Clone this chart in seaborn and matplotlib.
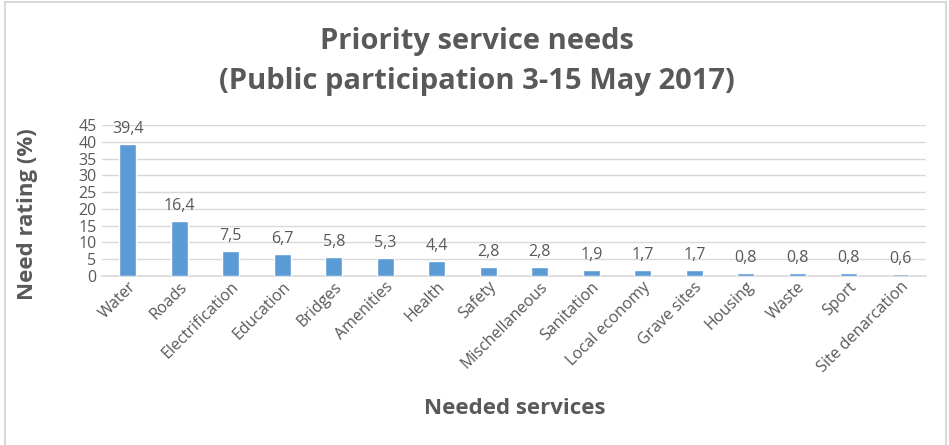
import matplotlib
matplotlib.use("Agg")
import matplotlib.pyplot as plt
from matplotlib.patches import Rectangle
import seaborn as sns
import pandas as pd

services = ["Water", "Roads", "Electrification", "Education", "Bridges", "Amenities",
            "Health", "Safety", "Mischellaneous", "Sanitation", "Local economy",
            "Grave sites", "Housing", "Waste", "Sport", "Site denarcation"]
ratings = [39.4, 16.4, 7.5, 6.7, 5.8, 5.3, 4.4, 2.8, 2.8, 1.9, 1.7, 1.7, 0.8, 0.8, 0.8, 0.6]
y_ticks = [0, 5, 10, 15, 20, 25, 30, 35, 40, 45]

df = pd.DataFrame({"service": services, "rating": ratings})

sns.set_theme(style="white")
plt.rcParams["font.family"] = ["Open Sans", "DejaVu Sans"]

W, H = 949, 445
fig = plt.figure(figsize=(W / 100, H / 100), dpi=100)
ax = fig.add_axes([102 / W, 1 - 276 / H, (926 - 102) / W, (276 - 125) / H])

text_gray = "#595959"
bar_blue = "#5b9bd5"

sns.barplot(data=df, x="service", y="rating", color=bar_blue, width=0.33,
            saturation=1, ax=ax, zorder=3)

ax.set_ylim(0, 45)
ax.set_xlim(-0.5, len(services) - 0.5)
ax.set_yticks(y_ticks)
ax.grid(axis="y", color="#d9d9d9", lw=1, zorder=0)
for s in ["top", "right", "left"]:
    ax.spines[s].set_visible(False)
ax.spines["bottom"].set_color("#d9d9d9")
ax.spines["bottom"].set_linewidth(1.2)
ax.tick_params(axis="both", length=0, labelsize=11.5, labelcolor=text_gray, pad=4)
ax.tick_params(axis="x", pad=2)
plt.setp(ax.get_xticklabels(), rotation=45, ha="right", rotation_mode="anchor")

for i, v in enumerate(ratings):
    ax.annotate(f"{v:.1f}".replace(".", ","), (i, v), xytext=(0, 5),
                textcoords="offset points", ha="center", va="bottom",
                fontsize=11.5, color=text_gray)

ax.set_xlabel("")
ax.set_ylabel("")
fig.text(28 / W, 1 - 214 / H, "Need rating (%)", rotation=90, ha="center", va="center",
         fontsize=16, fontweight="bold", color=text_gray)
fig.text(515 / W, 1 - 408 / H, "Needed services", ha="center", va="center",
         fontsize=16, fontweight="bold", color=text_gray)
fig.text(477 / W, 1 - 41 / H, "Priority service needs", ha="center", va="center",
         fontsize=21, fontweight="bold", color=text_gray)
fig.text(477 / W, 1 - 82 / H, "(Public participation 3-15 May 2017)", ha="center",
         va="center", fontsize=21, fontweight="bold", color=text_gray)

fig.patches.append(Rectangle((5 / W, -0.02), (946 - 5) / W, 1.02 - 2 / H,
                             transform=fig.transFigure, fill=False,
                             edgecolor="#d9d9d9", lw=1.5))

fig.savefig("out.png", dpi=100)
